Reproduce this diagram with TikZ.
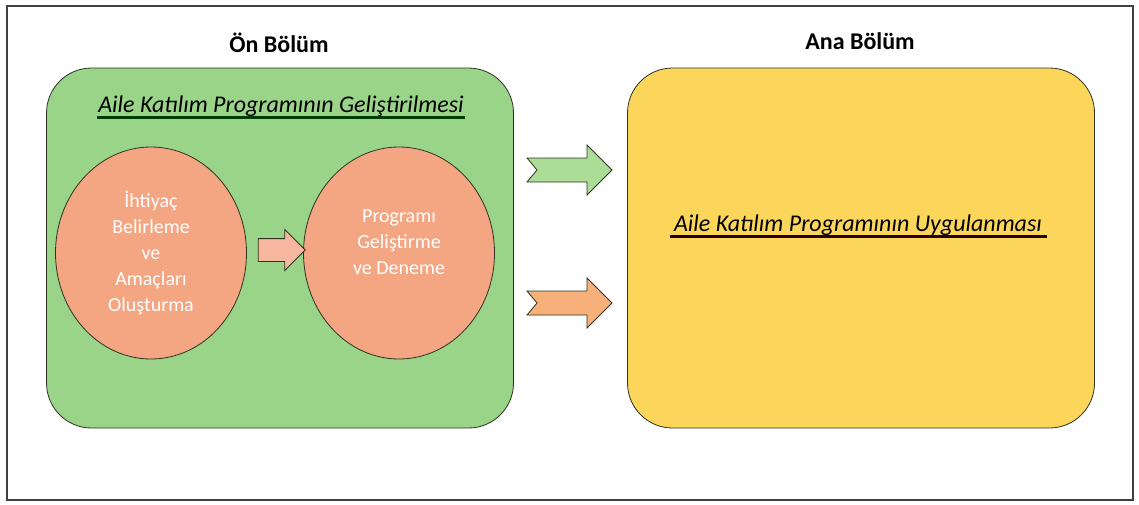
\documentclass[tikz,border=0pt]{standalone}
\usepackage{fontspec}
\setmainfont{Carlito}
\usepackage{tikz}
\usetikzlibrary{shapes.geometric,shapes.arrows,positioning}

\definecolor{boxgreen}{RGB}{154,212,136}
\definecolor{boxyellow}{RGB}{252,214,90}
\definecolor{stagesalmon}{RGB}{244,166,130}
\definecolor{arrowgreen}{RGB}{172,221,150}
\definecolor{arroworange}{RGB}{248,176,122}
\definecolor{linkpink}{RGB}{246,182,160}
\definecolor{edgedark}{RGB}{45,50,35}

\begin{document}
\begin{tikzpicture}
[x=1pt,y=-1pt,
part/.style={rectangle,rounded corners=45pt,draw=edgedark,thick,
inner sep=0pt,minimum width=467pt,minimum height=360pt},
stage/.style={ellipse,draw=edgedark,thick,fill=stagesalmon,text=white,
align=center,inner sep=0pt,minimum width=191pt,minimum height=212pt,
font=\fontsize{20}{26}\selectfont},
heading/.style={font=\fontsize{24}{28}\selectfont\bfseries},
partname/.style={font=\fontsize{24}{28}\selectfont\itshape,inner sep=1pt}]
\useasboundingbox (0,0) rectangle (1139,504);
\draw [line width=1.6pt,black!75] (7,6) rectangle (1133,500);
% titles
\node at (279,43) [heading] (pre){Ön Bölüm};
\node at (860,41) [heading] (main){Ana Bölüm};
% boxes
\node at (280,248) [part,fill=boxgreen] (develop){};
\node at (861,248) [part,fill=boxyellow] (apply){};
\node at (281,106) [partname] (developname){Aile Katılım Programının Geliştirilmesi};
\node at (858,225) [partname] (applyname){Aile Katılım Programının Uygulanması};
\draw [line width=2.6pt,black!60!green!60!black] (developname.south west) -- (developname.south east);
\draw [line width=2.6pt,black!85!red] ([xshift=-3pt]applyname.south west) -- ([xshift=4pt]applyname.south east);
% stages
\node at (151,253) [stage] (need){İhtiyaç\\Belirleme\\ve\\Amaçları\\Oluşturma};
\node at (399,253) [stage] (design){Programı\\Geliştirme\\ve Deneme\\[-4pt]};
\node at (276,250) [single arrow,draw=edgedark,thick,fill=linkpink,
inner xsep=0pt,inner ysep=11pt,minimum height=47pt,
single arrow head extend=9pt] (link){};
% block arrows
\draw [thick,draw=edgedark,fill=arrowgreen] (527,158) -- (587,158) -- (587,145) -- (612,170)
-- (587,195) -- (587,182) -- (527,182) -- (537,170) -- cycle;
\draw [thick,draw=edgedark,fill=arroworange] (527,291) -- (587,291) -- (587,278) -- (612,303)
-- (587,328) -- (587,315) -- (527,315) -- (537,303) -- cycle;
\end{tikzpicture}
\end{document}
